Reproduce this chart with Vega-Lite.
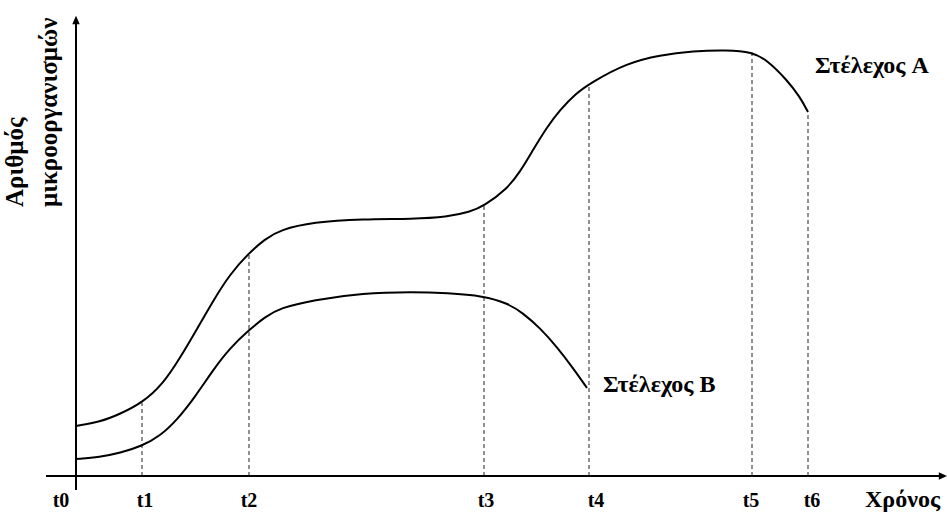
{
  "$schema": "https://vega.github.io/schema/vega-lite/v6.json",
  "width": 947,
  "height": 513,
  "autosize": {"type": "none"},
  "padding": 0,
  "background": "white",
  "config": {"view": {"stroke": null}},
  "datasets": {
    "curves": [
      {"strain": "A", "t": 0, "n": 5.0},
      {"strain": "A", "t": 2.4, "n": 5.4},
      {"strain": "A", "t": 4.4, "n": 6.2},
      {"strain": "A", "t": 6.6, "n": 7.3},
      {"strain": "A", "t": 8.7, "n": 9.2},
      {"strain": "A", "t": 10.4, "n": 11.8},
      {"strain": "A", "t": 12.1, "n": 14.7},
      {"strain": "A", "t": 13.7, "n": 17.5},
      {"strain": "A", "t": 15.4, "n": 20.2},
      {"strain": "A", "t": 17.3, "n": 22.3},
      {"strain": "A", "t": 18.9, "n": 23.7},
      {"strain": "A", "t": 20.4, "n": 24.6},
      {"strain": "A", "t": 23.7, "n": 25.4},
      {"strain": "A", "t": 28.7, "n": 25.7},
      {"strain": "A", "t": 33.7, "n": 25.7},
      {"strain": "A", "t": 37.1, "n": 25.9},
      {"strain": "A", "t": 39.4, "n": 26.4},
      {"strain": "A", "t": 40.8, "n": 27.0},
      {"strain": "A", "t": 43.1, "n": 28.7},
      {"strain": "A", "t": 44.4, "n": 30.4},
      {"strain": "A", "t": 45.7, "n": 32.6},
      {"strain": "A", "t": 47.1, "n": 34.9},
      {"strain": "A", "t": 48.4, "n": 36.6},
      {"strain": "A", "t": 49.9, "n": 38.2},
      {"strain": "A", "t": 51.6, "n": 39.4},
      {"strain": "A", "t": 55.1, "n": 41.3},
      {"strain": "A", "t": 58.4, "n": 42.1},
      {"strain": "A", "t": 61.7, "n": 42.5},
      {"strain": "A", "t": 65.1, "n": 42.6},
      {"strain": "A", "t": 67.6, "n": 42.4},
      {"strain": "A", "t": 69.1, "n": 41.6},
      {"strain": "A", "t": 71.1, "n": 39.6},
      {"strain": "A", "t": 72.4, "n": 37.9},
      {"strain": "A", "t": 73.2, "n": 36.4},
      {"strain": "B", "t": 0, "n": 1.7},
      {"strain": "B", "t": 2.4, "n": 1.9},
      {"strain": "B", "t": 4.4, "n": 2.3},
      {"strain": "B", "t": 6.6, "n": 3.0},
      {"strain": "B", "t": 8.4, "n": 4.0},
      {"strain": "B", "t": 10.1, "n": 5.6},
      {"strain": "B", "t": 11.9, "n": 7.9},
      {"strain": "B", "t": 13.7, "n": 10.6},
      {"strain": "B", "t": 15.4, "n": 12.8},
      {"strain": "B", "t": 17.3, "n": 14.6},
      {"strain": "B", "t": 18.9, "n": 15.9},
      {"strain": "B", "t": 20.4, "n": 16.8},
      {"strain": "B", "t": 23.7, "n": 17.6},
      {"strain": "B", "t": 28.7, "n": 18.3},
      {"strain": "B", "t": 33.7, "n": 18.4},
      {"strain": "B", "t": 37.1, "n": 18.3},
      {"strain": "B", "t": 40.8, "n": 18.0},
      {"strain": "B", "t": 43.1, "n": 17.3},
      {"strain": "B", "t": 44.7, "n": 16.3},
      {"strain": "B", "t": 46.4, "n": 14.8},
      {"strain": "B", "t": 48.1, "n": 12.9},
      {"strain": "B", "t": 49.7, "n": 10.8},
      {"strain": "B", "t": 51.1, "n": 8.8}
    ],
    "guides": [
      {"t": 6.6, "base": 0, "top": 7.3},
      {"t": 17.3, "base": 0, "top": 22.3},
      {"t": 40.8, "base": 0, "top": 27.0},
      {"t": 51.3, "base": 0, "top": 39.2},
      {"t": 67.6, "base": 0, "top": 42.4},
      {"t": 73.2, "base": 0, "top": 36.4}
    ],
    "axes": [
      {"x1": 0, "x2": 0, "y1": -1.4, "y2": 45.6},
      {"x1": -3.0, "x2": 86.5, "y1": 0, "y2": 0}
    ],
    "arrows": [
      {"t": 0, "n": 45.6, "dir": "up"},
      {"t": 86.7, "n": 0, "dir": "right"}
    ],
    "ticklabels": [
      {"t": -1.5, "n": -3.1, "label": "t0"},
      {"t": 6.9, "n": -3.1, "label": "t1"},
      {"t": 17.3, "n": -3.1, "label": "t2"},
      {"t": 41.0, "n": -3.1, "label": "t3"},
      {"t": 52.0, "n": -3.1, "label": "t4"},
      {"t": 67.5, "n": -3.1, "label": "t5"},
      {"t": 73.6, "n": -3.1, "label": "t6"}
    ],
    "labels": [
      {"t": 73.9, "n": 40.3, "label": "Στέλεχος A"},
      {"t": 52.7, "n": 8.4, "label": "Στέλεχος B"},
      {"t": 78.9, "n": -3.1, "label": "Χρόνος"}
    ],
    "ytitle": [
      {"t": -5.3, "n": 26.9, "label": "Αριθμός"},
      {"t": -1.9, "n": 26.9, "label": "μικροοργανισμών"}
    ]
  },
  "layer": [
    {
      "data": {"name": "guides"},
      "mark": {"type": "rule", "color": "#222", "strokeWidth": 1, "strokeDash": [4, 3]},
      "encoding": {
        "x": {"field": "t", "type": "quantitative", "scale": {"domain": [-7.6, 87.1], "nice": false, "zero": false}, "axis": null},
        "y": {"field": "base", "type": "quantitative", "scale": {"domain": [-3.7, 47.6], "nice": false, "zero": false}, "axis": null},
        "y2": {"field": "top"}
      }
    },
    {
      "data": {"name": "axes"},
      "mark": {"type": "rule", "color": "black", "strokeWidth": 2},
      "encoding": {
        "x": {"field": "x1", "type": "quantitative"},
        "x2": {"field": "x2"},
        "y": {"field": "y1", "type": "quantitative"},
        "y2": {"field": "y2"}
      }
    },
    {
      "data": {"name": "arrows"},
      "mark": {"type": "point", "filled": true, "color": "black", "size": 70, "opacity": 1},
      "encoding": {
        "x": {"field": "t", "type": "quantitative"},
        "y": {"field": "n", "type": "quantitative"},
        "shape": {"field": "dir", "type": "nominal", "scale": {"domain": ["up", "right"], "range": ["M0,-1L0.9,1L-0.9,1Z", "M1,0L-1,0.9L-1,-0.9Z"]}, "legend": null}
      }
    },
    {
      "data": {"name": "curves"},
      "mark": {"type": "line", "color": "black", "strokeWidth": 2, "interpolate": "basis"},
      "encoding": {
        "x": {"field": "t", "type": "quantitative"},
        "y": {"field": "n", "type": "quantitative"},
        "detail": {"field": "strain", "type": "nominal"}
      }
    },
    {
      "data": {"name": "ticklabels"},
      "mark": {"type": "text", "font": "Liberation Serif", "fontWeight": "bold", "fontSize": 20, "align": "center", "baseline": "alphabetic", "color": "black"},
      "encoding": {
        "x": {"field": "t", "type": "quantitative"},
        "y": {"field": "n", "type": "quantitative"},
        "text": {"field": "label", "type": "nominal"}
      }
    },
    {
      "data": {"name": "labels"},
      "mark": {"type": "text", "font": "Liberation Serif", "fontWeight": "bold", "fontSize": 24, "align": "left", "baseline": "alphabetic", "color": "black"},
      "encoding": {
        "x": {"field": "t", "type": "quantitative"},
        "y": {"field": "n", "type": "quantitative"},
        "text": {"field": "label", "type": "nominal"}
      }
    },
    {
      "data": {"name": "ytitle"},
      "mark": {"type": "text", "font": "Liberation Serif", "fontWeight": "bold", "fontSize": 25, "align": "left", "baseline": "alphabetic", "angle": 270, "color": "black"},
      "encoding": {
        "x": {"field": "t", "type": "quantitative"},
        "y": {"field": "n", "type": "quantitative"},
        "text": {"field": "label", "type": "nominal"}
      }
    }
  ]
}
